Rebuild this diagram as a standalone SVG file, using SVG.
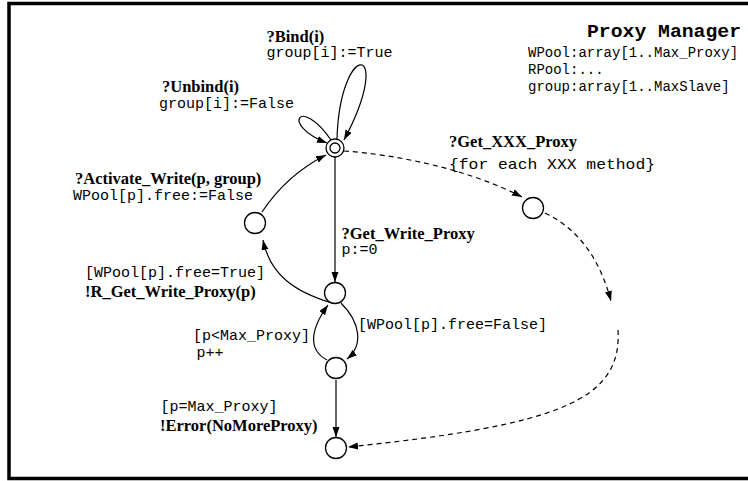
<svg xmlns="http://www.w3.org/2000/svg" width="748" height="481" viewBox="0 0 748 481">
<style>
.st{fill:#fff;stroke:#000;stroke-width:1.3}
.e{fill:none;stroke:#000;stroke-width:1.2}
.d{fill:none;stroke:#000;stroke-width:1.2;stroke-dasharray:5 4}
.b{font-family:"Liberation Serif","Times New Roman",serif;font-weight:bold;font-size:16.5px;fill:#000}
.m{font-family:"Liberation Mono","Courier New",monospace;font-size:15px;fill:#000}
.h{font-family:"Liberation Mono","Courier New",monospace;font-size:14px;fill:#000}
.t{font-family:"Liberation Mono","Courier New",monospace;font-weight:bold;font-size:19px;fill:#000}
</style>
<defs>
<marker id="a" markerUnits="userSpaceOnUse" markerWidth="11" markerHeight="8" refX="10" refY="3.5" orient="auto">
<path d="M0,0 L10,3.5 L0,7 z" fill="#000"/>
</marker>
</defs>
<rect x="0" y="0" width="748" height="481" fill="#fff"/>
<rect x="9" y="3.5" width="760" height="475" fill="none" stroke="#000" stroke-width="3.5"/>
<g id="header">
<text class="t" x="587" y="37" textLength="154" lengthAdjust="spacingAndGlyphs">Proxy Manager</text>
<text class="h" x="528" y="57">WPool:array[1..Max_Proxy]</text>
<text class="h" x="528" y="74">RPool:...</text>
<text class="h" x="528" y="90.5">group:array[1..MaxSlave]</text>
</g>
<g id="connectors">
<path class="e" d="M335 157 L335 282" marker-end="url(#a)"/>
<path class="e" d="M337 139 C340 38 396 42 344 140" marker-end="url(#a)"/>
<path class="e" d="M331 140 C300 95 280 125 327 143" marker-end="url(#a)"/>
<path class="e" d="M262 212 C280 185 300 168 326 155" marker-end="url(#a)"/>
<path class="e" d="M332 303 C295 292 270 275 263 240" marker-end="url(#a)"/>
<path class="e" d="M341 303 C360 322 364 345 347 359" marker-end="url(#a)"/>
<path class="e" d="M327 360 C308 350 310 330 328 305" marker-end="url(#a)"/>
<path class="e" d="M336 380 L336 437" marker-end="url(#a)"/>
<path class="d" d="M344 151 C400 155 470 170 522 197" marker-end="url(#a)"/>
<path class="d" d="M545 213 C580 230 600 260 611 301" marker-end="url(#a)"/>
<path class="d" d="M618 330 C622 400 560 425 348 447" marker-end="url(#a)"/>
</g>
<g id="n0"><circle class="st" cx="335" cy="148" r="9"/><circle class="st" cx="335" cy="148" r="5"/></g>
<g id="n1"><circle class="st" cx="335" cy="293" r="10.5"/></g>
<g id="n2"><circle class="st" cx="255" cy="223" r="10.5"/></g>
<g id="n3"><circle class="st" cx="336" cy="368" r="10.5"/></g>
<g id="n4"><circle class="st" cx="336" cy="448" r="10.5"/></g>
<g id="n5"><circle class="st" cx="533" cy="208" r="10.5"/></g>
<g id="labels">
<text class="b" x="266.5" y="42">?Bind(i)</text>
<text class="m" x="266.5" y="57">group[i]:=True</text>
<text class="b" x="162" y="92">?Unbind(i)</text>
<text class="m" x="159" y="108">group[i]:=False</text>
<text class="b" x="75" y="184">?Activate_Write(p, group)</text>
<text class="m" x="73" y="200">WPool[p].free:=False</text>
<text class="m" x="85" y="277">[WPool[p].free=True]</text>
<text class="b" x="85" y="297">!R_Get_Write_Proxy(p)</text>
<text class="b" x="341.5" y="239">?Get_Write_Proxy</text>
<text class="m" x="341.5" y="254">p:=0</text>
<text class="m" x="358" y="329">[WPool[p].free=False]</text>
<text class="m" x="193" y="340">[p&lt;Max_Proxy]</text>
<text class="m" x="196.5" y="357">p++</text>
<text class="m" x="160.5" y="411">[p=Max_Proxy]</text>
<text class="b" x="160" y="431">!Error(NoMoreProxy)</text>
<text class="b" x="449" y="147">?Get_XXX_Proxy</text>
<text class="m" x="449" y="169" textLength="206" lengthAdjust="spacingAndGlyphs">{for each XXX method}</text>
</g>
</svg>
